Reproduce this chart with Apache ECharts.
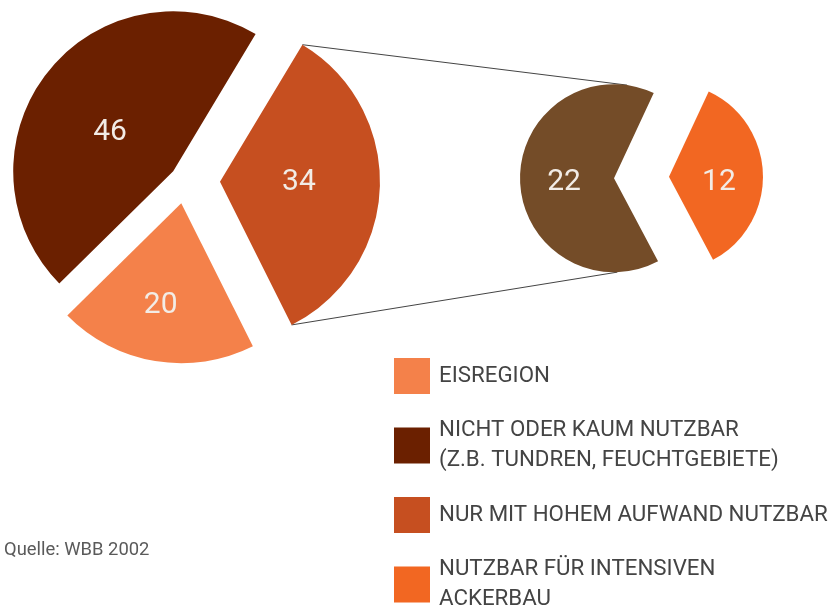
<!DOCTYPE html>
<html>
<head>
<meta charset="utf-8">
<title>Landflächen</title>
<script src="https://cdn.jsdelivr.net/npm/echarts@6.0.0/dist/echarts.min.js"></script>
<style>
  html, body { margin: 0; padding: 0; background: #fff; }
  #chart { width: 837px; height: 607px; }
</style>
</head>
<body>
<div id="chart"></div>
<script>
// Hauptkreis (Anteile in %)
const mainNames = ['NICHT ODER KAUM NUTZBAR\n(Z.B. TUNDREN, FEUCHTGEBIETE)', 'EISREGION', 'NUR MIT HOHEM AUFWAND NUTZBAR']
const mainValues = [46, 20, 34]
// Aufteilung des 34%-Segments
const subNames = ['ÜBRIGE', 'NUTZBAR FÜR INTENSIVEN\nACKERBAU']
const subValues = [22, 12]
// Legende (Reihenfolge wie im Bild)
const legendNames = [mainNames[1], mainNames[0], mainNames[2], subNames[1]]
const sourceText = 'Quelle: WBB 2002'

const mainColors = ['#6b2000', '#f4814a', '#c64f20']
const subColors = ['#744c28', '#f26722']
const colorOf = {}
mainNames.forEach((n, i) => { colorOf[n] = mainColors[i] })
subNames.forEach((n, i) => { colorOf[n] = subColors[i] })

const FONT = 'Roboto, sans-serif'

// Geometrie
const mainCenter = [185, 180.5]
const mainRadius = 160
const mainStart = 59
const mainOffsets = [15, 23, 35]
const mainLabelShift = [[2, 13], [-7, 20], [-4, -2.5]]
const subCenter = [641.5, 177.5]
const subRadius = 94
const subStart = 65
const subOffset = 27.5
const subLabelShift = [[0, 3], [0, 7]]

const numLabel = {
  show: true,
  position: 'inside',
  formatter: '{c}',
  color: '#f2ece6',
  fontFamily: FONT,
  fontSize: 30
}

// ein Segment pro Serie, damit jedes seinen eigenen Versatz bekommt
const mainSeries = mainValues.map((v, i) => ({
  type: 'pie',
  center: mainCenter,
  radius: mainRadius,
  startAngle: mainStart,
  clockwise: false,
  selectedMode: 'single',
  selectedOffset: mainOffsets[i],
  silent: true,
  labelLine: { show: false },
  labelLayout: { dx: mainLabelShift[i][0], dy: mainLabelShift[i][1] },
  itemStyle: { borderWidth: 0 },
  data: mainNames.map((n, j) => ({
    name: n,
    value: mainValues[j],
    selected: j === i,
    itemStyle: { color: j === i ? mainColors[j] : 'rgba(0,0,0,0)' },
    label: j === i ? numLabel : { show: false }
  }))
}))

const subSeries = {
  type: 'pie',
  center: subCenter,
  radius: subRadius,
  startAngle: subStart,
  clockwise: false,
  selectedMode: 'multiple',
  selectedOffset: subOffset,
  silent: true,
  labelLine: { show: false },
  labelLayout: p => ({ dx: subLabelShift[p.dataIndex][0], dy: subLabelShift[p.dataIndex][1] }),
  itemStyle: { borderWidth: 0 },
  label: numLabel,
  data: subNames.map((n, j) => ({
    name: n,
    value: subValues[j],
    selected: true,
    itemStyle: { color: subColors[j] }
  }))
}

// Verbindungslinien vom 34er-Segment zum Nebenkreis
const deg = Math.PI / 180
const pt = (c, r, a) => [c[0] + r * Math.cos(a * deg), c[1] - r * Math.sin(a * deg)]
const mainSum = mainValues.reduce((a, b) => a + b, 0)
const a0 = mainStart + (mainValues[0] + mainValues[1]) / mainSum * 360
const a1 = mainStart + 360
const apexMain = pt(mainCenter, mainOffsets[2], (a0 + a1) / 2)
const subSum = subValues.reduce((a, b) => a + b, 0)
const apexSub = pt(subCenter, subOffset, subStart + subValues[0] / subSum * 180)
const lineFrom = [pt(apexMain, mainRadius, a1), pt(apexMain, mainRadius, a0)]
const lineTo = [pt(apexSub, subRadius, 82), pt(apexSub, subRadius, 272)]

const chart = echarts.init(document.getElementById('chart'), null, { renderer: 'canvas' })
chart.setOption({
  animation: false,
  backgroundColor: '#fff',
  title: {
    text: sourceText,
    left: 4,
    top: 539,
    padding: 0,
    textStyle: { fontFamily: FONT, fontSize: 18.4, fontWeight: 'normal', color: '#5a5a5a', lineHeight: 22 }
  },
  legend: {
    orient: 'vertical',
    left: 394,
    top: 358,
    height: 300,
    padding: 0,
    itemGap: 19,
    itemWidth: 36,
    itemHeight: 36,
    icon: 'rect',
    selectedMode: false,
    itemStyle: { borderWidth: 0 },
    textStyle: { fontFamily: FONT, fontSize: 22.3, lineHeight: 30, color: '#444', padding: [0, 0, 0, 4] },
    data: legendNames.map(n => ({
      name: n,
      itemStyle: { color: colorOf[n] },
      textStyle: { padding: n.indexOf('\n') >= 0 ? [5, 0, 0, 4] : [0, 0, 0, 4] }
    }))
  },
  graphic: lineFrom.map((p, i) => ({
    type: 'line',
    silent: true,
    shape: { x1: p[0], y1: p[1], x2: lineTo[i][0], y2: lineTo[i][1] },
    style: { stroke: '#444', lineWidth: 1 }
  })),
  series: mainSeries.concat([subSeries])
})
</script>
</body>
</html>
